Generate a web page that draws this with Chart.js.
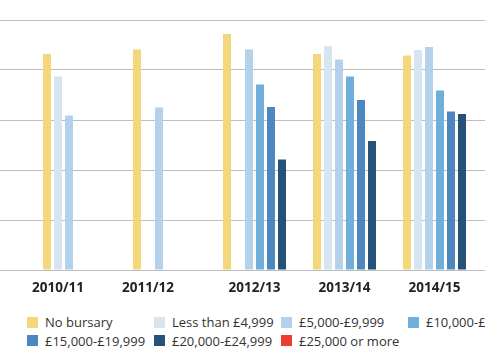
<!DOCTYPE html>
<html>
<head>
<meta charset="utf-8">
<script src="https://cdn.jsdelivr.net/npm/chart.js@4.4.0/dist/chart.umd.min.js"></script>
<style>
    html, body { margin: 0; padding: 0; background: #fff; }
    #wrap { position: relative; width: 485px; height: 360px; overflow: hidden; }
    #chart { position: absolute; left: 0; top: 0; }
    #legend {
        position: absolute; left: 27px; top: 313px; width: 458px; overflow: hidden;
        display: grid; grid-template-columns: 127px 127px 127px 127px; row-gap: 0;
        font-family: 'Open Sans', sans-serif; font-size: 13px; color: #333;
    }
    .item { display: flex; align-items: center; height: 18.5px; white-space: nowrap; }
    .box { width: 11px; height: 11px; margin-right: 7px; flex: none; }
</style>
</head>
<body>
<div id="wrap">
    <canvas id="chart" width="485" height="300"></canvas>
    <div id="legend"></div>
</div>
<script>
const years = ["2010/11", "2011/12", "2012/13", "2013/14", "2014/15"];

const noBursary   = [43.2, 44.1, 47.2, 43.2, 42.9];
const under5k     = [38.7, null, null, 44.8, 44.0];
const from5k      = [30.9, 32.5, 44.1, 42.1, 44.6];
const from10k     = [null, null, 37.1, 38.7, 35.9];
const from15k     = [null, null, 32.6, 34.0, 31.7];
const from20k     = [null, null, 22.1, 25.8, 31.2];
const over25k     = [null, null, null, null, null];

const seriesNames = ["No bursary", "Less than £4,999", "£5,000-£9,999", "£10,000-£14,999",
                     "£15,000-£19,999", "£20,000-£24,999", "£25,000 or more"];
const seriesData = [noBursary, under5k, from5k, from10k, from15k, from20k, over25k];
const colors = ["#F5D77B", "#D7E5F3", "#B3D1EA", "#70AFDC", "#4C88BF", "#26527A", "#EE3D2F"];

// year labels centred under the bars that are actually drawn
const yearLabels = {
    id: 'yearLabels',
    afterDatasetsDraw(chart) {
        const ctx = chart.ctx;
        ctx.save();
        ctx.font = "bold 13.5px 'Open Sans', sans-serif";
        ctx.fillStyle = "#222";
        ctx.textAlign = "center";
        ctx.textBaseline = "middle";
        years.forEach((year, i) => {
            let min = Infinity, max = -Infinity;
            chart.data.datasets.forEach((ds, d) => {
                if (ds.data[i] == null) return;
                const bar = chart.getDatasetMeta(d).data[i];
                min = Math.min(min, bar.x);
                max = Math.max(max, bar.x);
            });
            if (min === Infinity) return;
            ctx.fillText(year, (min + max) / 2, 288);
        });
        ctx.restore();
    }
};

const chart = new Chart(document.getElementById("chart"), {
    type: 'bar',
    data: {
        labels: years,
        datasets: seriesNames.map((name, i) => ({
            label: name,
            data: seriesData[i],
            backgroundColor: colors[i],
            categoryPercentage: 77 / 90,
            barPercentage: 8 / 11
        }))
    },
    options: {
        responsive: false,
        animation: false,
        layout: { padding: { top: 20, bottom: 30, left: 0, right: 0 } },
        plugins: {
            legend: { display: false },
            tooltip: { enabled: false }
        },
        scales: {
            x: { display: false },
            y: {
                min: 0,
                max: 50,
                ticks: { display: false, stepSize: 10 },
                border: { display: false },
                grid: { color: "#BDBDBD", lineWidth: 1, tickLength: 35 }
            }
        }
    },
    plugins: [yearLabels]
});

// html legend in fixed columns
const legend = document.getElementById("legend");
chart.data.datasets.forEach(ds => {
    const item = document.createElement("div");
    item.className = "item";
    const box = document.createElement("span");
    box.className = "box";
    box.style.background = ds.backgroundColor;
    item.appendChild(box);
    item.appendChild(document.createTextNode(ds.label));
    legend.appendChild(item);
});
</script>
</body>
</html>
